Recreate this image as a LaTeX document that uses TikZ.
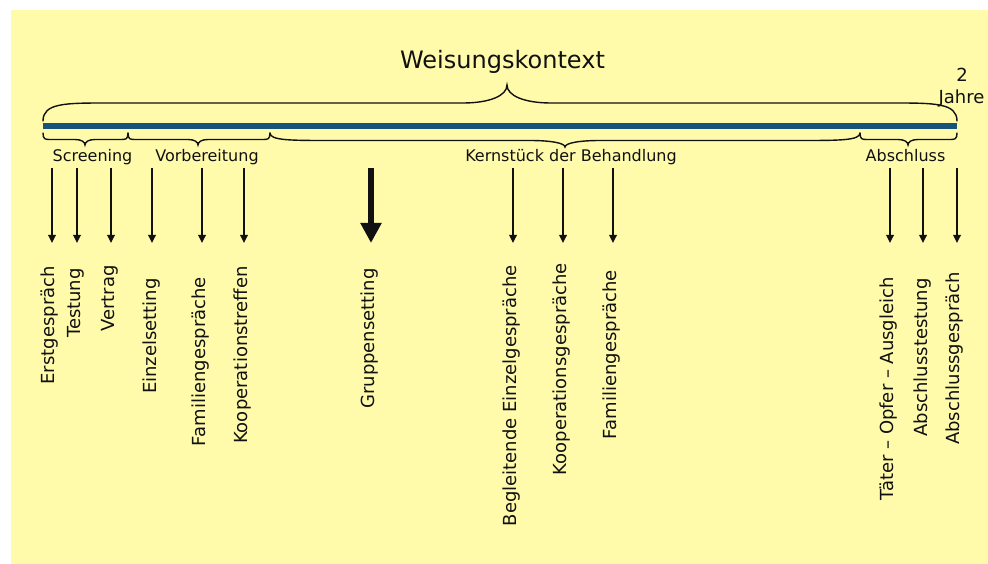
\documentclass[tikz,border=0pt]{standalone}
\usepackage{fontspec}
\setmainfont{DejaVu Sans}
\usetikzlibrary{arrows.meta}

\definecolor{paper}{RGB}{255,251,171}
\definecolor{barblue}{RGB}{22,84,122}
\definecolor{ink}{RGB}{17,17,17}

% Curly brace along the time line.
% #1 left x, #2 right x, #3 tip x, #4 end y, #5 level y, #6 tip y,
% #7 width of the end curls, #8 width of the curves into the tip
\newcommand\timelinebrace[8]{%
  \draw[bracestroke] (#1,#4) .. controls (#1,#5) and ({#1+0.35*#7},#5) .. ({#1+#7},#5)
    -- ({#3-#8},#5) .. controls ({#3-0.4*#8},#5) and (#3,{#5+0.4*(#6-#5)}) .. (#3,#6)
    .. controls (#3,{#5+0.4*(#6-#5)}) and ({#3+0.4*#8},#5) .. ({#3+#8},#5)
    -- ({#2-#7},#5) .. controls ({#2-0.35*#7},#5) and (#2,#5) .. (#2,#4);
}

\tikzset{
  bracestroke/.style={draw=ink, line width=1.4pt, line cap=round},
  thinarrow/.style={draw=ink, line width=1.7pt, -{Triangle[width=7.5pt,length=8pt]}},
  thickarrow/.style={draw=ink, line width=6pt, -{Triangle[width=20pt,length=20pt]}},
  vlabel/.style={rotate=90, anchor=east, inner sep=0pt, text=ink,
    font=\fontsize{18}{20}\selectfont},
  phaselabel/.style={anchor=base, inner sep=0pt, text=ink,
    font=\fontsize{16}{18}\selectfont},
  titlelabel/.style={anchor=base, inner sep=0pt, text=ink,
    font=\fontsize{24}{28}\selectfont},
  yearlabel/.style={anchor=base, inner sep=0pt, text=ink,
    font=\fontsize{18}{20}\selectfont},
}

\begin{document}
\begin{tikzpicture}[x=1pt,y=-1pt]
  \useasboundingbox (0,0) rectangle (988,564);
  \fill[white] (0,0) rectangle (988,564);
  \fill[paper] (11,10) rectangle (988,564);

  % time line
  \coordinate (start) at (43,126.3);
  \coordinate (end) at (957,126.3);
  \draw[barblue, line width=6pt] (start) -- (end);

  % overall brace and its labels
  \timelinebrace{43}{957}{507}{121}{103}{85}{64}{44}
  \node[titlelabel] (context) at (502.5,68.5) {Weisungskontext};
  \node[yearlabel] (two) at (962,81.7) {2};
  \node[yearlabel] (years) at (961.5,104) {Jahre};

  % phase braces below the line
  \timelinebrace{43}{128}{85}{133}{139.5}{145}{7}{10}
  \timelinebrace{128}{270}{198}{133}{139.5}{145}{7}{10}
  \timelinebrace{270}{860}{565}{133}{140.5}{147}{60}{35}
  \timelinebrace{860}{957}{908}{133}{139.5}{145}{7}{10}

  \node[phaselabel] (screening) at (92.5,161.5) {Screening};
  \node[phaselabel] (prep) at (207,161.5) {Vorbereitung};
  \node[phaselabel] (core) at (571,161.5) {Kernstück der Behandlung};
  \node[phaselabel] (closing) at (905.5,161.5) {Abschluss};

  % steps of each phase
  \foreach \n/\ax/\tx/\ty/\lbl in {
      erst/52/50/266/Erstgespräch,
      test/77/76/268/Testung,
      contract/111/110/265/Vertrag,
      single/152/152/278/Einzelsetting,
      family/202/201/277/Familiengespräche,
      coop/244/243/266/Kooperationstreffen,
      accomp/513/512/265/Begleitende Einzelgespräche,
      cooptalk/563/562/263/Kooperationsgespräche,
      familytalk/613/612/270/Familiengespräche,
      toa/890/889/277/Täter – Opfer – Ausgleich,
      finaltest/923/923/278/Abschlusstestung,
      finaltalk/957/955/272/Abschlussgespräch}
  {
    \coordinate (\n-from) at (\ax,168);
    \coordinate (\n-to) at (\ax,243);
    \draw[thinarrow] (\n-from) -- (\n-to);
    \node[vlabel] (\n) at (\tx,\ty) {\lbl};
  }

  % group setting, the main part of the treatment
  \coordinate (group-from) at (371,168);
  \coordinate (group-to) at (371,243);
  \draw[thickarrow] (group-from) -- (group-to);
  \node[vlabel] (group) at (370,268) {Gruppensetting};
\end{tikzpicture}
\end{document}
